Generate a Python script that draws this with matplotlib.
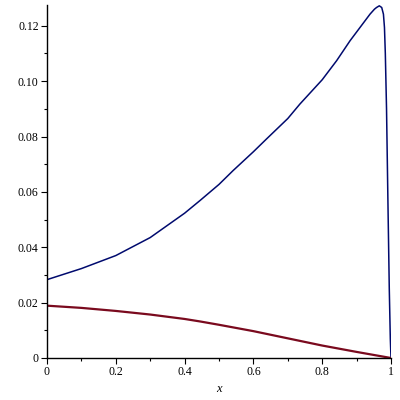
import matplotlib
matplotlib.use("Agg")
import matplotlib.pyplot as plt
from matplotlib.ticker import MultipleLocator

# values
x_blue = [0, 0.1, 0.2, 0.3, 0.4, 0.445, 0.5, 0.541, 0.6, 0.638, 0.7, 0.735,
          0.8, 0.842, 0.881, 0.910, 0.939, 0.952, 0.958, 0.966, 0.973, 0.978, 0.981,
          0.9835, 0.987, 0.991, 0.995, 0.998, 1.0]
y_blue = [0.0283, 0.0323, 0.0370, 0.0435, 0.0523, 0.0569, 0.0627, 0.0677, 0.0745, 0.0791, 0.0865, 0.0917,
          0.1005, 0.1074, 0.1146, 0.1194, 0.1242, 0.1260, 0.1266, 0.1272, 0.1266, 0.1242, 0.1194,
          0.1100, 0.0900, 0.0570, 0.0250, 0.0070, 0.0]

x_red = [0, 0.1, 0.2, 0.3, 0.4, 0.445, 0.5, 0.6, 0.7, 0.8, 0.9, 1.0]
y_red = [0.0189, 0.0181, 0.0170, 0.0157, 0.0141, 0.0132, 0.0120, 0.0097, 0.0071, 0.0045, 0.0022, 0.0]

xticks = [0, 0.2, 0.4, 0.6, 0.8, 1]
xlabels = ["0", "0.2", "0.4", "0.6", "0.8", "1"]
yticks = [0, 0.02, 0.04, 0.06, 0.08, 0.10, 0.12]
ylabels = ["0", "0.02", "0.04", "0.06", "0.08", "0.10", "0.12"]

fig = plt.figure(figsize=(4, 4), dpi=100)
ax = fig.add_axes([0.1175, 0.105, 0.86, 0.8825])

ax.plot(x_blue, y_blue, color="#000a6e", linewidth=1.1)
ax.plot(x_red, y_red, color="#7a0a1e", linewidth=1.6)

ax.set_xlim(0, 1)
ax.set_ylim(0, 0.1275)

for s in ["top", "right"]:
    ax.spines[s].set_visible(False)
for s in ["left", "bottom"]:
    ax.spines[s].set_linewidth(1.0)

ax.set_xticks(xticks)
ax.set_xticklabels(xlabels)
ax.set_yticks(yticks)
ax.set_yticklabels(ylabels)
ax.xaxis.set_minor_locator(MultipleLocator(0.1))
ax.yaxis.set_minor_locator(MultipleLocator(0.01))
ax.tick_params(which="major", direction="out", length=4, width=0.8, labelsize=8.5, pad=2)
ax.tick_params(which="minor", direction="out", length=2.5, width=0.8)
for lab in ax.get_xticklabels() + ax.get_yticklabels():
    lab.set_family("Liberation Serif")

ax.set_xlabel("x", fontfamily="Liberation Serif", fontstyle="italic", fontsize=9, labelpad=3)

fig.savefig("out.png", dpi=100)
